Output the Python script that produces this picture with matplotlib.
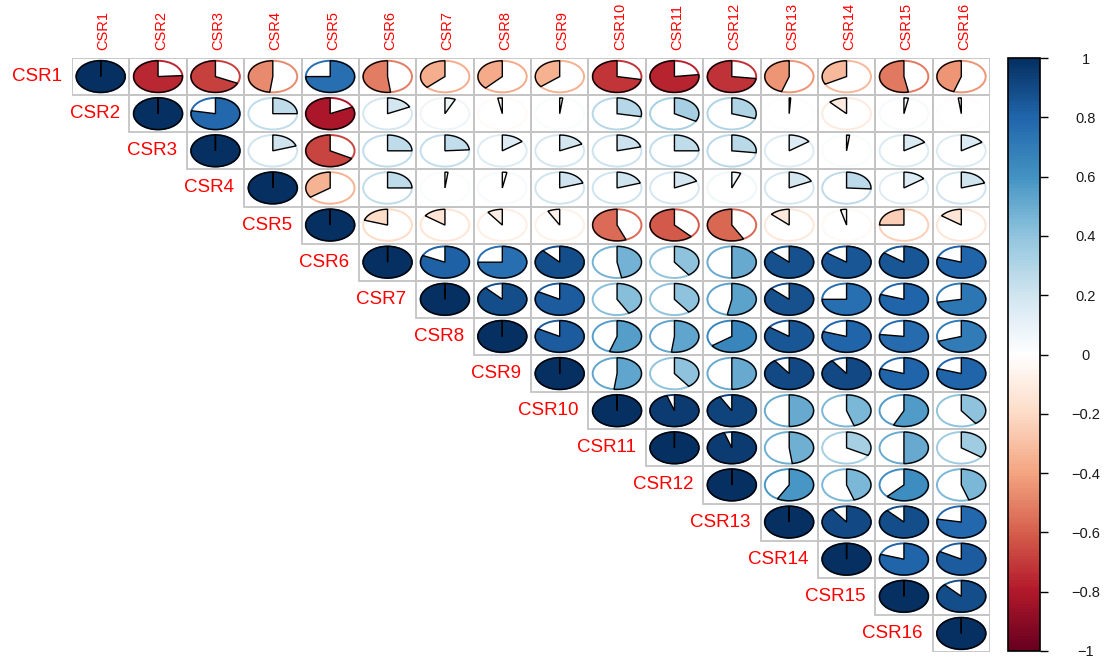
import numpy as np
import matplotlib
matplotlib.use("Agg")
from matplotlib import pyplot as plt
from matplotlib.colors import LinearSegmentedColormap, Normalize
from matplotlib.patches import Polygon, Ellipse, Rectangle
from matplotlib.cm import ScalarMappable

plt.rcParams['font.family'] = ['Liberation Sans', 'DejaVu Sans']

labels = [f"CSR{i}" for i in range(1, 17)]

# upper triangle of the correlation matrix, row by row (diagonal excluded)
upper_rows = [
    [-0.76, -0.68, -0.48, 0.75, -0.52, -0.37, -0.38, -0.36, -0.72, -0.77, -0.73, -0.45, -0.33, -0.53, -0.45],
    [0.78, 0.25, -0.82, 0.18, 0.07, -0.03, 0.02, 0.28, 0.33, 0.30, 0.01, -0.12, 0.03, -0.02],
    [0.20, -0.67, 0.25, 0.24, 0.15, 0.18, 0.21, 0.25, 0.27, 0.15, 0.02, 0.16, 0.16],
    [-0.35, 0.25, 0.02, 0.03, 0.20, 0.20, 0.18, 0.06, 0.18, 0.26, 0.15, 0.20],
    [-0.20, -0.15, -0.10, -0.08, -0.56, -0.62, -0.58, -0.13, -0.04, -0.25, -0.15],
    [0.82, 0.75, 0.88, 0.47, 0.40, 0.50, 0.87, 0.85, 0.85, 0.80],
    [0.88, 0.83, 0.42, 0.40, 0.53, 0.87, 0.75, 0.80, 0.72],
    [0.83, 0.55, 0.52, 0.65, 0.85, 0.80, 0.77, 0.70],
    [0.52, 0.40, 0.50, 0.90, 0.90, 0.80, 0.80],
    [0.95, 0.92, 0.50, 0.45, 0.57, 0.40],
    [0.95, 0.48, 0.33, 0.50, 0.35],
    [0.58, 0.45, 0.62, 0.45],
    [0.90, 0.88, 0.78],
    [0.80, 0.83],
    [0.88],
]

n = len(labels)
corr = np.eye(n)
for i, row in enumerate(upper_rows):
    for k, v in enumerate(row):
        j = i + 1 + k
        corr[i, j] = v
        corr[j, i] = v

rdbu = ["#67001F", "#B2182B", "#D6604D", "#F4A582", "#FDDBC7", "#FFFFFF",
        "#D1E5F0", "#92C5DE", "#4393C3", "#2166AC", "#053061"]
cmap = LinearSegmentedColormap.from_list("corr_rdbu", rdbu, N=200)
norm = Normalize(vmin=-1, vmax=1)

fig = plt.figure(figsize=(11.08, 6.59), dpi=100)
ax = fig.add_axes([72 / 1108, 1 - 652 / 659, 918 / 1108, 594 / 659])
ax.set_xlim(-0.5, n - 0.5)
ax.set_ylim(n - 0.5, -0.5)
ax.set_aspect('auto')
ax.axis('off')

radius = 0.425
for i in range(n):
    for j in range(i, n):
        r = corr[i, j]
        col = cmap(norm(r))
        ax.add_patch(Rectangle((j - 0.5, i - 0.5), 1, 1, fill=False,
                               edgecolor="#C4C4C4", linewidth=1.3, zorder=1))
        # coloured ring
        ax.add_patch(Ellipse((j, i), 2 * radius, 2 * radius, fill=False,
                             edgecolor=col, linewidth=1.4, zorder=2))
        # pie slice: starts at 12 o'clock, clockwise for r > 0
        phi = np.linspace(0, 2 * np.pi * abs(r), 120)
        xs = j + np.sign(r) * radius * np.sin(phi)
        ys = i - radius * np.cos(phi)
        pts = np.column_stack([np.r_[j, xs, j], np.r_[i, ys, i]])
        ax.add_patch(Polygon(pts, closed=True, facecolor=col, edgecolor="black",
                             linewidth=1.0, zorder=3))

# column labels on top, row labels along the diagonal
for j, lab in enumerate(labels):
    ax.annotate(lab, xy=(j, -0.5), xytext=(2, 6), textcoords='offset points',
                rotation=90, ha='center', va='bottom', color='red',
                fontsize=10.5, annotation_clip=False)
for i, lab in enumerate(labels):
    ax.annotate(lab, xy=(i - 0.5, i), xytext=(-7, 0), textcoords='offset points',
                ha='right', va='center', color='red', fontsize=13.5,
                annotation_clip=False)

# colour legend
cax = fig.add_axes([1008 / 1108, 1 - 651 / 659, 32 / 1108, 593 / 659])
cb = fig.colorbar(ScalarMappable(norm=norm, cmap=cmap), cax=cax)
cb.outline.set_edgecolor("black")
cb.outline.set_linewidth(1.2)
tick_vals = [1, 0.8, 0.6, 0.4, 0.2, 0, -0.2, -0.4, -0.6, -0.8, -1]
tick_text = ["1", "0.8", "0.6", "0.4", "0.2", "0",
             "\u22120.2", "\u22120.4", "\u22120.6", "\u22120.8", "\u22121"]
cb.set_ticks(tick_vals)
cb.set_ticklabels(tick_text)
cax.tick_params(axis='y', length=6, width=1, color="black", pad=27,
                labelsize=10.5, labelcolor="#1a1a1a")
for t in cax.get_yticklabels():
    t.set_horizontalalignment('center')

fig.savefig("out.png", dpi=100)
